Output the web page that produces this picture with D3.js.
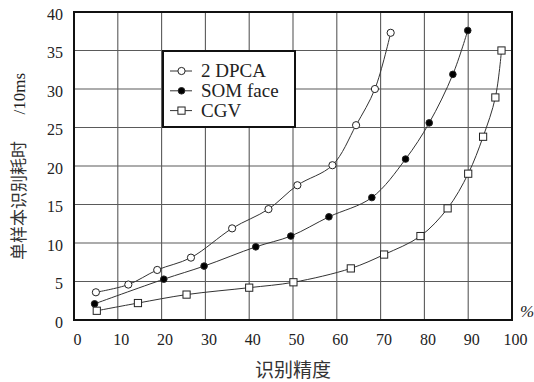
<!DOCTYPE html>
<html>
<head>
<meta charset="utf-8">
<script src="https://cdn.jsdelivr.net/npm/d3@7"></script>
<style>
  body { margin: 0; background: #fff; }
  svg text { font-family: 'Liberation Serif', 'DejaVu Serif', serif; fill: #222; }
  svg text.cjk { font-family: 'Noto Sans CJK SC', sans-serif; fill: #333; }
</style>
</head>
<body>
<div id="chart"></div>
<script>
// values
var xTicks = [0, 10, 20, 30, 40, 50, 60, 70, 80, 90, 100];
var yTicks = [0, 5, 10, 15, 20, 25, 30, 35, 40];

var seriesNames = ["2 DPCA", "SOM face", "CGV"];

var dpcaX = [5, 12.4, 19, 26.7, 36.1, 44.4, 51, 59, 64.4, 68.7, 72.3];
var dpcaY = [3.6, 4.6, 6.5, 8.1, 11.9, 14.4, 17.5, 20.1, 25.3, 30.0, 37.3];

var somX = [4.7, 20.5, 29.7, 41.5, 49.5, 58.2, 68, 75.7, 81.1, 86.5, 89.9];
var somY = [2.1, 5.3, 7.0, 9.5, 10.9, 13.4, 15.9, 20.9, 25.6, 31.9, 37.6];

var cgvX = [5.2, 14.6, 25.7, 40, 50.1, 63.2, 70.8, 79.1, 85.3, 90, 93.4, 96.2, 97.6];
var cgvY = [1.2, 2.2, 3.3, 4.2, 4.9, 6.7, 8.5, 10.9, 14.5, 19, 23.8, 28.9, 35];

var serif = "'Liberation Serif', 'DejaVu Serif', serif";

var margin = {top: 12, right: 22, bottom: 62, left: 74},
    width = 534 - margin.left - margin.right,
    height = 382 - margin.top - margin.bottom;

var svg = d3.select("#chart")
    .append("svg")
    .attr("width", 534)
    .attr("height", 382)
    .append("g")
    .attr("transform", "translate(" + margin.left + "," + margin.top + ")");

var x = d3.scaleLinear().domain([0, 100]).range([0, width]);
var y = d3.scaleLinear().domain([0, 40]).range([height, 0]);

// grid
svg.append("g")
    .selectAll("line.vgrid")
    .data(xTicks)
    .enter()
    .append("line")
    .attr("x1", function (d) { return x(d); })
    .attr("x2", function (d) { return x(d); })
    .attr("y1", 0)
    .attr("y2", height)
    .attr("stroke", "#5a5a5a")
    .attr("stroke-width", 1.1);

svg.append("g")
    .selectAll("line.hgrid")
    .data(yTicks)
    .enter()
    .append("line")
    .attr("x1", 0)
    .attr("x2", width)
    .attr("y1", function (d) { return y(d); })
    .attr("y2", function (d) { return y(d); })
    .attr("stroke", "#5a5a5a")
    .attr("stroke-width", 1.1);

// axes (labels only, frame drawn below)
var xAxis = svg.append("g")
    .attr("transform", "translate(0," + height + ")")
    .call(d3.axisBottom(x).tickValues(xTicks).tickSize(0).tickPadding(14));
xAxis.attr("font-family", serif).attr("font-size", 16);
xAxis.select(".domain").remove();
xAxis.selectAll("text").attr("dx", 3).attr("fill", "#222");

var yAxis = svg.append("g")
    .call(d3.axisLeft(y).tickValues(yTicks).tickSize(0).tickPadding(11));
yAxis.attr("font-family", serif).attr("font-size", 16);
yAxis.select(".domain").remove();
yAxis.selectAll("text").attr("dy", "0.45em").attr("fill", "#222");

// frame
svg.append("rect")
    .attr("x", 0)
    .attr("y", 0)
    .attr("width", width)
    .attr("height", height)
    .attr("fill", "none")
    .attr("stroke", "#111")
    .attr("stroke-width", 2);

// series
var series = [
    {name: seriesNames[0], xs: dpcaX, ys: dpcaY, mark: "circle", fill: "#fff"},
    {name: seriesNames[1], xs: somX, ys: somY, mark: "circle", fill: "#000"},
    {name: seriesNames[2], xs: cgvX, ys: cgvY, mark: "square", fill: "#fff"}
];

var line = d3.line()
    .x(function (d) { return x(d[0]); })
    .y(function (d) { return y(d[1]); })
    .curve(d3.curveCatmullRom.alpha(0.5));

function drawMark(g, type, fill, cx, cy) {
    if (type === "circle") {
        g.append("circle")
            .attr("cx", cx).attr("cy", cy)
            .attr("r", fill === "#000" ? 3.3 : 3.6)
            .attr("fill", fill)
            .attr("stroke", "#222")
            .attr("stroke-width", 1);
    } else {
        g.append("rect")
            .attr("x", cx - 3.6).attr("y", cy - 3.6)
            .attr("width", 7.2).attr("height", 7.2)
            .attr("fill", fill)
            .attr("stroke", "#222")
            .attr("stroke-width", 1);
    }
}

series.forEach(function (s) {
    var pts = s.xs.map(function (v, i) { return [v, s.ys[i]]; });
    svg.append("path")
        .datum(pts)
        .attr("d", line)
        .attr("fill", "none")
        .attr("stroke", "#333")
        .attr("stroke-width", 1);
    var g = svg.append("g");
    pts.forEach(function (p) {
        drawMark(g, s.mark, s.fill, x(p[0]), y(p[1]));
    });
});

// legend
var legend = svg.append("g")
    .attr("transform", "translate(" + (163 - margin.left) + "," + (51 - margin.top) + ")");
legend.append("rect")
    .attr("x", 0).attr("y", 0)
    .attr("width", 132).attr("height", 76)
    .attr("fill", "#fff")
    .attr("stroke", "#111")
    .attr("stroke-width", 2);

series.forEach(function (s, i) {
    var ly = 20 + i * 19.8;
    legend.append("line")
        .attr("x1", 7).attr("x2", 29)
        .attr("y1", ly).attr("y2", ly)
        .attr("stroke", "#333")
        .attr("stroke-width", 1);
    drawMark(legend, s.mark, s.fill, 18.5, ly);
    legend.append("text")
        .attr("x", 38)
        .attr("y", ly + 6)
        .style("font-size", "19px")
        .text(s.name);
});

// axis titles
svg.append("text")
    .attr("class", "cjk")
    .attr("x", x(50))
    .attr("y", height + 57)
    .attr("text-anchor", "middle")
    .style("font-size", "19px")
    .text("识别精度");

svg.append("text")
    .attr("class", "cjk")
    .attr("transform", "translate(" + (-margin.left + 25) + "," + (260 - margin.top) + ") rotate(-90)")
    .attr("text-anchor", "start")
    .style("font-size", "17px")
    .text("单样本识别耗时");

svg.append("text")
    .attr("transform", "translate(" + (-margin.left + 25) + "," + (73 - margin.top) + ") rotate(-90)")
    .attr("text-anchor", "end")
    .style("font-size", "17px")
    .attr("fill", "#333")
    .text("/10ms");

svg.append("text")
    .attr("x", width + 8)
    .attr("y", height - 3)
    .style("font-size", "17px")
    .style("font-style", "italic")
    .text("%");
</script>
</body>
</html>
